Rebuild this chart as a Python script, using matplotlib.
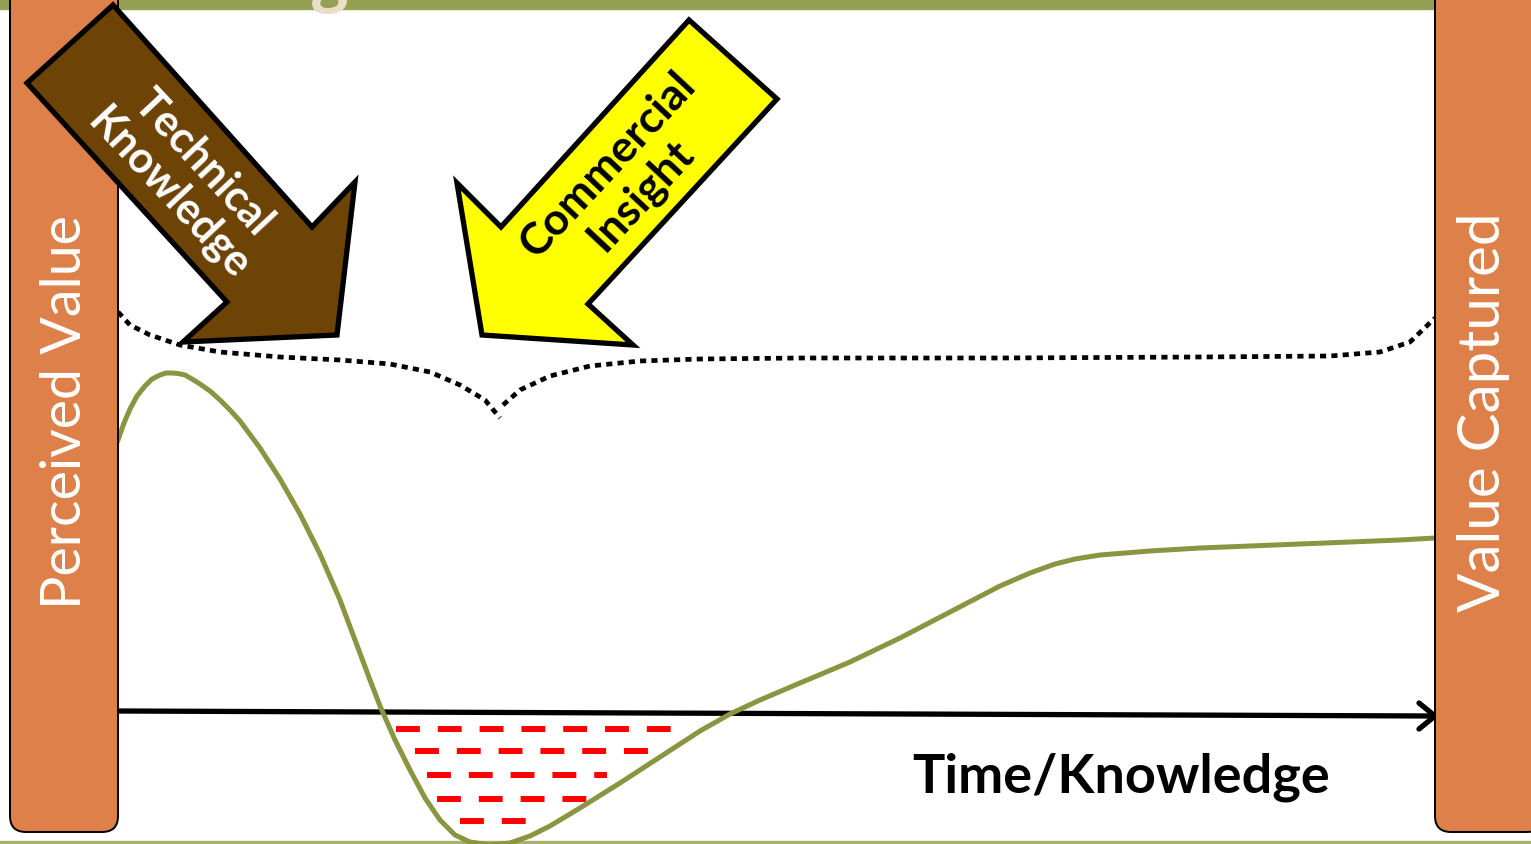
import matplotlib
matplotlib.use("Agg")
import matplotlib.pyplot as plt
from matplotlib.patches import Polygon, Rectangle, FancyBboxPatch

# canvas size in pixels; everything below is laid out in pixel units (y down)
W, H = 1531, 844

# value curve (perceived value over time/knowledge)
curve_x = [118, 124, 130, 137, 145, 152, 160, 166, 172, 178, 185, 192, 200, 210, 220,
           230, 240, 260, 280, 300, 320, 340, 355, 370, 380, 395, 410, 425, 440, 455,
           470, 490, 510, 530, 550, 580, 620, 660, 700, 730, 760, 800, 850, 900, 950,
           1000, 1030, 1055, 1075, 1100, 1150, 1200, 1300, 1400, 1435]
curve_y = [440, 423, 409, 396, 386, 379, 375, 373, 373, 373.5, 375, 379, 384, 391, 400,
           410, 421, 448, 479, 514, 554, 600, 640, 680, 706, 740, 770, 798, 820, 835,
           842, 845, 843, 836, 826, 808, 783, 757, 731, 714, 700, 683, 662, 638, 612,
           586, 573, 564, 559, 555, 551, 548, 544, 540, 538]

# dotted brace over the curve
brace_left_x = [118, 130, 150, 180, 220, 280, 340, 390, 430, 460, 485, 500]
brace_left_y = [312, 325, 335, 345, 352, 357, 360, 364, 372, 385, 400, 418]
brace_right_x = [503, 520, 550, 590, 640, 700, 800, 1000, 1200, 1330, 1380, 1410, 1435]
brace_right_y = [405, 390, 376, 366, 361, 359, 358, 358, 357, 356, 352, 342, 318]

# red "loss" hatching below the axis: (y, x_start, x_end)
loss_rows = [(729, 396, 672), (751, 415, 648), (775, 427, 607),
             (799, 437, 587), (821, 460, 526)]

# block arrows
tech_arrow = [(113, 5), (312, 227), (355, 182), (337, 335), (183, 342), (227, 302), (27, 83)]
comm_arrow = [(689, 20), (777, 99), (588, 304), (633, 345), (482, 335), (457, 183), (501, 227)]

ORANGE = "#dd8049"
OLIVE = "#8b9440"

fig = plt.figure(figsize=(W / 100, H / 100), dpi=100)
ax = fig.add_axes([0, 0, 1, 1])
ax.set_xlim(0, W)
ax.set_ylim(H, 0)
ax.axis("off")

# header and footer rules
ax.add_patch(Rectangle((0, 0), W, 9, color="#95a052", zorder=2))
ax.add_patch(Rectangle((0, 841), W, 3, color="#a8b06e", zorder=2))

# title descender hanging over the header bar
ax.text(330, -2, "g", fontsize=46, fontfamily="Open Sans", fontweight="bold",
        color="#e9dfc8", ha="center", va="baseline", zorder=2.2)

# side pillars
for x0 in (10, 1435):
    ax.add_patch(FancyBboxPatch((x0, -40), 108, 872,
                                boxstyle="round,pad=0,rounding_size=16",
                                facecolor=ORANGE, edgecolor="black", lw=1.4, zorder=3))
ax.text(66, 412, "Perceived Value", rotation=90, fontsize=40, fontfamily="Lato",
        color="white", ha="center", va="center", zorder=4)
ax.text(1484, 412, "Value Captured", rotation=90, fontsize=42, fontfamily="Lato",
        color="white", ha="center", va="center", zorder=4)

# dashed loss area
for y, xs, xe in loss_rows:
    ax.plot([xs, xe], [y, y], color="#ff0000", lw=4.3, dashes=(4.0, 3.0),
            solid_capstyle="butt", dash_capstyle="butt", zorder=2)

# time axis with open arrowhead
ax.plot([118, 1432], [711, 716], color="black", lw=3.8, zorder=2)
ax.plot([1419, 1435, 1419], [703, 716, 729], color="black", lw=3.8,
        solid_capstyle="round", solid_joinstyle="miter", zorder=2)
ax.text(1121, 777, "Time/Knowledge", fontsize=39, fontfamily="Lato",
        fontweight="bold", color="black", ha="center", va="center", zorder=4)

# curve
ax.plot(curve_x, curve_y, color=OLIVE, lw=3.6, solid_joinstyle="round", zorder=2.5)

# brace
for bx, by in ((brace_left_x, brace_left_y), (brace_right_x, brace_right_y)):
    ax.plot(bx, by, color="black", lw=3.4, dashes=(1.3, 1.1),
            dash_capstyle="butt", zorder=2)

# arrows
ax.add_patch(Polygon(tech_arrow, closed=True, facecolor="#6e4406",
                     edgecolor="black", lw=3.8, joinstyle="miter", zorder=5))
ax.text(186, 178, "Technical\nKnowledge", rotation=-47, fontsize=31,
        fontfamily="Lato", fontweight="bold", color="white", ha="center",
        va="center", linespacing=1.15, rotation_mode="anchor", zorder=6)

ax.add_patch(Polygon(comm_arrow, closed=True, facecolor="#ffff00",
                     edgecolor="black", lw=3.8, joinstyle="miter", zorder=5))
ax.text(624, 180, "Commercial\nInsight", rotation=47, fontsize=32,
        fontfamily="Lato", fontweight="bold", color="black", ha="center",
        va="center", linespacing=1.15, rotation_mode="anchor", zorder=6)

fig.savefig("out.png", dpi=100)
